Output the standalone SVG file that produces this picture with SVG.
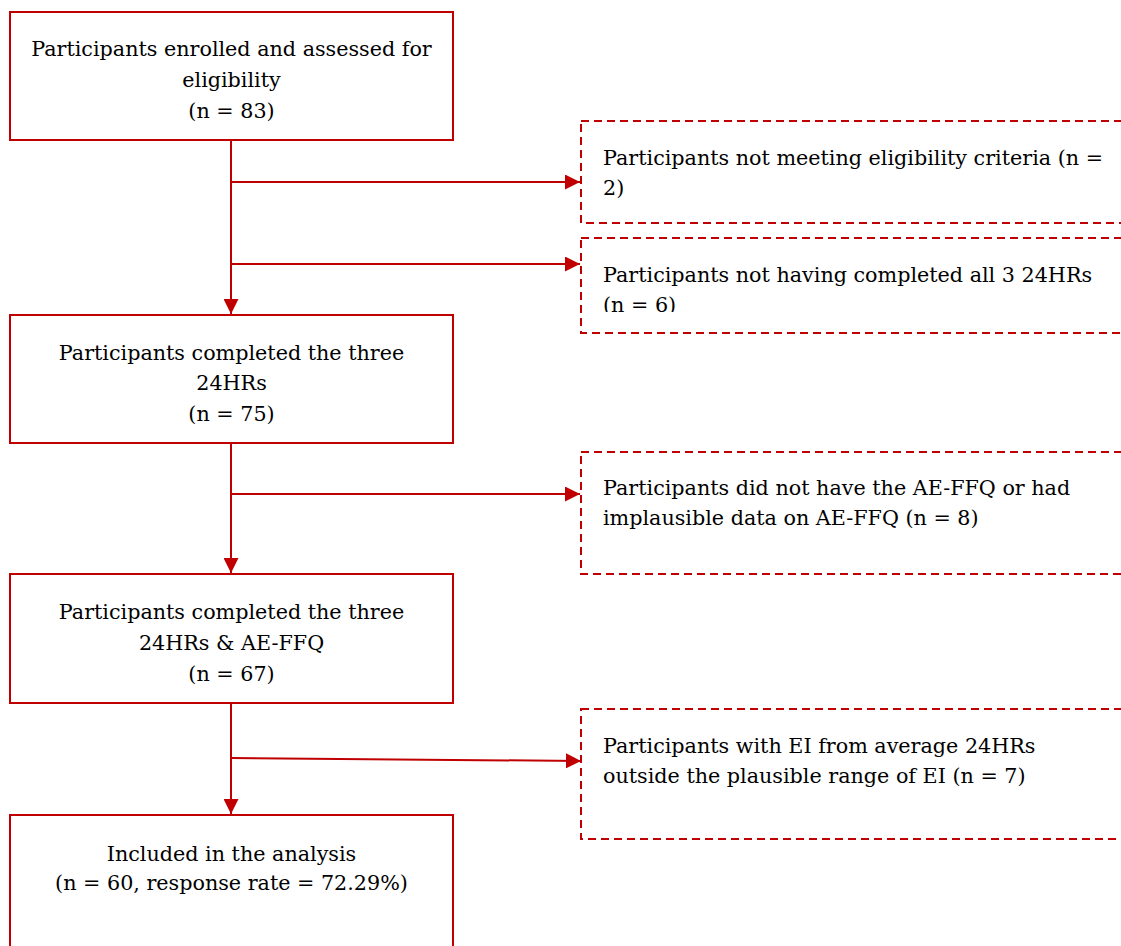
<svg xmlns="http://www.w3.org/2000/svg" width="1121" height="946" viewBox="0 0 1121 946">
  <defs>
    <marker id="arrow" viewBox="0 0 15 15" refX="15" refY="7.5" markerWidth="15" markerHeight="15" markerUnits="userSpaceOnUse" orient="auto">
      <path d="M0,0 L15,7.5 L0,15 Z" fill="#C00000"/>
    </marker>
    <clipPath id="clip-excl2">
      <rect x="583" y="239" width="540" height="73"/>
    </clipPath>
  </defs>
  <style>
    .box { fill: #FFFFFF; stroke: #C00000; stroke-width: 2; }
    .dash { fill: #FFFFFF; stroke: #C00000; stroke-width: 2; stroke-dasharray: 8 5; }
    .conn { fill: none; stroke: #C00000; stroke-width: 2; }
    .c { text-anchor: middle; }
  </style>
  <rect width="1121" height="946" fill="#FFFFFF"/>

  <g id="connectors">
    <line class="conn" x1="231" y1="134" x2="231" y2="314" marker-end="url(#arrow)"/>
    <line class="conn" x1="231" y1="182" x2="580" y2="182" marker-end="url(#arrow)"/>
    <line class="conn" x1="231" y1="264" x2="580" y2="264" marker-end="url(#arrow)"/>
    <line class="conn" x1="231" y1="438" x2="231" y2="573" marker-end="url(#arrow)"/>
    <line class="conn" x1="231" y1="494" x2="580" y2="494" marker-end="url(#arrow)"/>
    <line class="conn" x1="231" y1="697" x2="231" y2="814" marker-end="url(#arrow)"/>
    <line class="conn" x1="231" y1="758" x2="581" y2="761" marker-end="url(#arrow)"/>
  </g>

  <g font-family="DejaVu Serif, serif" font-size="20.7" fill="#000000">
    <g id="enrolled">
      <rect class="box" x="10" y="12" width="443" height="128"/>
      <text class="c" x="231.5" y="56">Participants enrolled and assessed for</text>
      <text class="c" x="231.5" y="87">eligibility</text>
      <text class="c" x="231.5" y="118">(n = 83)</text>
    </g>

    <g id="excluded-eligibility">
      <rect class="dash" x="581" y="121" width="560" height="102"/>
      <text x="603" y="165">Participants not meeting eligibility criteria (n =</text>
      <text x="603" y="195">2)</text>
    </g>

    <g id="excluded-24hr">
      <rect class="dash" x="581" y="238" width="560" height="95"/>
      <g clip-path="url(#clip-excl2)">
        <text x="603" y="282">Participants not having completed all 3 24HRs</text>
        <text x="603" y="312">(n = 6)</text>
      </g>
    </g>

    <g id="completed-24hr">
      <rect class="box" x="10" y="315" width="443" height="128"/>
      <text class="c" x="231.5" y="360">Participants completed the three</text>
      <text class="c" x="231.5" y="390">24HRs</text>
      <text class="c" x="231.5" y="421">(n = 75)</text>
    </g>

    <g id="excluded-ffq">
      <rect class="dash" x="581" y="452" width="560" height="122"/>
      <text x="603" y="495">Participants did not have the AE-FFQ or had</text>
      <text x="603" y="525">implausible data on AE-FFQ (n = 8)</text>
    </g>

    <g id="completed-ffq">
      <rect class="box" x="10" y="574" width="443" height="129"/>
      <text class="c" x="231.5" y="619">Participants completed the three</text>
      <text class="c" x="231.5" y="650">24HRs &amp; AE-FFQ</text>
      <text class="c" x="231.5" y="681">(n = 67)</text>
    </g>

    <g id="excluded-ei">
      <rect class="dash" x="581" y="709" width="560" height="130"/>
      <text x="603" y="753">Participants with EI from average 24HRs</text>
      <text x="603" y="783">outside the plausible range of EI (n = 7)</text>
    </g>

    <g id="included">
      <rect class="box" x="10" y="815" width="443" height="160"/>
      <text class="c" x="231.5" y="861">Included in the analysis</text>
      <text class="c" x="231.5" y="890">(n = 60, response rate = 72.29%)</text>
    </g>
  </g>
</svg>
